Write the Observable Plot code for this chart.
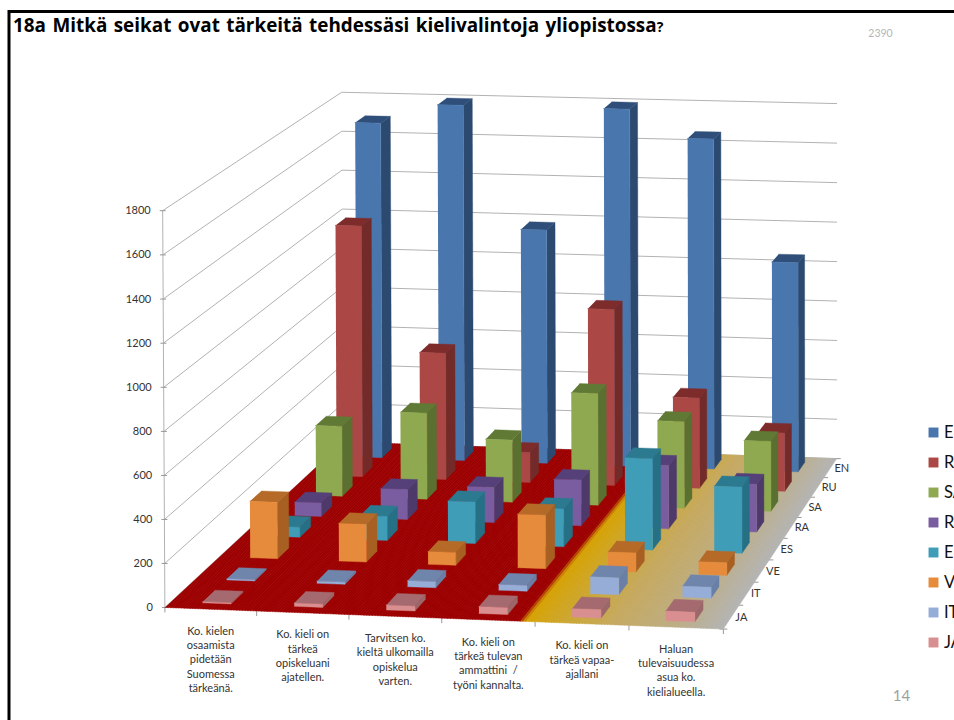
<!DOCTYPE html>
<html><head><meta charset="utf-8">
<script src="https://cdn.jsdelivr.net/npm/d3@7"></script>
<script src="https://cdn.jsdelivr.net/npm/@observablehq/plot@0.6"></script>
<style>
html,body{margin:0;padding:0;background:#fff;overflow:hidden}
#wrap{position:relative;width:954px;height:720px;overflow:hidden}
#wrap svg{position:absolute;left:0;top:0}
#title{position:absolute;left:13px;top:13px;font:700 18.9px "Open Sans",sans-serif;color:#000;white-space:nowrap;word-spacing:1.5px;line-height:24px}
#title small{font-size:14px}
</style></head><body>
<div id="wrap"><div id="title">18a Mitkä seikat ovat tärkeitä tehdessäsi kielivalintoja yliopistossa<small>?</small></div></div>
<script>
const categories = [
  "Ko. kielen\nosaamista\npidetään\nSuomessa\ntärkeänä.",
  "Ko. kieli on\ntärkeä\nopiskeluani\najatellen.",
  "Tarvitsen ko.\nkieltä ulkomailla\nopiskelua\nvarten.",
  "Ko. kieli on\ntärkeä tulevan\nammattini  /\ntyöni kannalta.",
  "Ko. kieli on\ntärkeä vapaa-\najallani",
  "Haluan\ntulevaisuudessa\nasua ko.\nkielialueella."
];
const seriesNames = ["EN","RU","SA","RA","ES","VE","IT","JA"];
const EN = [1700,1800,1180,1800,1660,1050];
const RU = [1255,632,150,875,448,288];
const SA = [345,424,305,547,423,341];
const RA = [65,145,170,220,305,229];
const ES = [48,114,198,180,433,313];
const VE = [266,177,60,250,89,59];
const IT = [5,10,28,26,77,50];
const JA = [5,15,22,31,38,43];
const seriesValues = [EN,RU,SA,RA,ES,VE,IT,JA];
const yTicks = [0,200,400,600,800,1000,1200,1400,1600,1800];
const yMax = 1800;
const frontColors = ["#4a76ae","#ab4744","#8fa950","#7a5da0","#3f9db8","#e68a3c","#96add8","#d98f90"];
const sideColors  = ["#2c4a70","#722b29","#5a7030","#4e3a6a","#267085","#a85f22","#6a7fa5","#9b6768"];
const topColors   = ["#2f4f7a","#7d2c2b","#607a35","#55407a","#2b7a8f","#b56a28","#6f85ab","#a56a70"];

// perspective camera fitted to the chart box corners: [u,v,w] -> [px,py]
const fit = [
  [0,0,0,165,606.7],[1,0,0,722.7,629],[1,1,0,836.5,457.5],[0,1,0,342,442],
  [0,0,1,161.7,210],[0,1,1,341.7,91.7],[1,1,1,836,103.3]
];
function solve(A,b){
  const n=b.length,M=A.map((r,i)=>[...r,b[i]]);
  for(let i=0;i<n;i++){
    let p=i;for(let k=i+1;k<n;k++)if(Math.abs(M[k][i])>Math.abs(M[p][i]))p=k;
    [M[i],M[p]]=[M[p],M[i]];
    for(let k=0;k<n;k++){if(k===i)continue;const f=M[k][i]/M[i][i];for(let j=i;j<=n;j++)M[k][j]-=f*M[i][j];}
  }
  return M.map((r,i)=>r[n]/r[i]);
}
const rows=[],rhs=[];
for(const [u,v,w,px,py] of fit){
  const x=px/1000,y=py/1000;
  rows.push([u,v,w,1,0,0,0,0,-x*u,-x*v,-x*w]);rhs.push(x);
  rows.push([0,0,0,0,u,v,w,1,-y*u,-y*v,-y*w]);rhs.push(y);
}
const AtA=d3.range(11).map(i=>d3.range(11).map(j=>d3.sum(rows,r=>r[i]*r[j])));
const Atb=d3.range(11).map(i=>d3.sum(rows,(r,k)=>r[i]*rhs[k]));
const P=solve(AtA,Atb);
function project(u,v,w){
  const d=P[8]*u+P[9]*v+P[10]*w+1;
  return [1000*(P[0]*u+P[1]*v+P[2]*w+P[3])/d,1000*(P[4]*u+P[5]*v+P[6]*w+P[7])/d];
}
const nC=categories.length,nS=seriesNames.length;
const barW=0.31,barD=0.5;

const faces=[];let fid=0;
function face(corners,color){
  const id=fid++;
  for(const c of corners){const [x,y]=project(...c);faces.push({id,x,y,color});}
}
const floorColor=d3.scaleLinear()
  .domain([0,0.637,0.65,0.72,0.8,0.92,1])
  .range(["#9c0000","#9c0000","#d6a204","#cca733","#c6a95f","#bcae88","#b4b4b4"])
  .interpolate(d3.interpolateRgb);
for(let k=0;k<200;k++){
  const u0=k/200,u1=(k+1)/200;
  face([[u0,0,0],[Math.min(1,u1+0.001),0,0],[Math.min(1,u1+0.001),1,0],[u0,1,0]],floorColor((u0+u1)/2));
}
seriesValues.forEach((vals,s)=>{
  const r=nS-1-s;
  const v0=(r+0.5-barD/2)/nS,v1=(r+0.5+barD/2)/nS;
  vals.forEach((val,c)=>{
    const u0=(c+0.5-barW/2)/nC,u1=(c+0.5+barW/2)/nC,w=val/yMax;
    face([[u1,v0,0],[u1,v1,0],[u1,v1,w],[u1,v0,w]],sideColors[s]);
    face([[u0,v0,w],[u1,v0,w],[u1,v1,w],[u0,v1,w]],topColors[s]);
    face([[u0,v0,0],[u1,v0,0],[u1,v0,w],[u0,v0,w]],frontColors[s]);
  });
});

const grid=[];
yTicks.forEach(t=>{
  const w=t/yMax;
  for(const c of [[0,0,w],[0,1,w],[1,1,w]]){const [x,y]=project(...c);grid.push({t,x,y});}
});
const axisLine=[[0,0,0],[0,0,1]].map(c=>{const [x,y]=project(...c);return{x,y};});
const yLabels=yTicks.map(t=>{const [x,y]=project(0,0,t/yMax);return{t,x,y};});
const xTicks=d3.range(nC+1).map(i=>{const [x,y]=project(i/nC,0,0);return{x,y};});
const xLabels=categories.map((text,i)=>{const [x,y]=project((i+0.5)/nC,0,0);return{text,x,y};});
const sTicks=d3.range(nS+1).map(i=>{const [x,y]=project(1,i/nS,0);return{x,y};});
const sLabels=seriesNames.map((name,s)=>{const [x,y]=project(1,(nS-1-s+0.5)/nS,0);return{name,x,y};});
const legend=seriesNames.map((name,s)=>({name,color:frontColors[s],i:s}));
const legendY=d3.scaleLinear().domain([0,7]).range([432,642]);

const chart=Plot.plot({
  width:954,height:720,margin:0,
  x:{domain:[0,954],range:[0,954],axis:null},
  y:{domain:[0,720],range:[0,720],axis:null},
  color:{type:"identity"},
  style:{background:"transparent",fontFamily:"Lato,sans-serif"},
  marks:[
    Plot.ruleY([11],{x1:8,x2:954,stroke:"#000",strokeWidth:3}),
    Plot.ruleX([8.5],{y1:10,y2:720,stroke:"#000",strokeWidth:3}),
    Plot.line(grid,{x:"x",y:"y",z:"t",stroke:"#b2b2b2",strokeWidth:1,curve:"linear"}),
    Plot.line(axisLine,{x:"x",y:"y",stroke:"#b2b2b2",strokeWidth:1}),
    Plot.link(xTicks,{x1:"x",y1:"y",x2:"x",y2:d=>d.y+5,stroke:"#999",strokeWidth:1}),
    Plot.link(yLabels,{x1:d=>d.x-3,y1:"y",x2:d=>d.x+3,y2:"y",stroke:"#999",strokeWidth:1}),
    Plot.link(sTicks,{x1:d=>d.x-4,y1:"y",x2:d=>d.x+4,y2:"y",stroke:"#999",strokeWidth:1}),
    Plot.line(faces,{x:"x",y:"y",z:"id",fill:"color",stroke:"color",strokeWidth:0.4,curve:"linear"}),
    Plot.text(yLabels,{x:"x",y:"y",text:d=>String(d.t),textAnchor:"end",dx:-12,fontSize:11,fill:"#333"}),
    Plot.text(xLabels,{x:"x",y:"y",text:"text",lineAnchor:"top",dy:15.5,fontSize:11,lineHeight:1.3,fill:"#333"}),
    Plot.text(sLabels,{x:"x",y:"y",text:"name",textAnchor:"start",dx:4,fontSize:11,fill:"#333"}),
    Plot.dot(legend,{x:()=>933,y:d=>legendY(d.i),symbol:"square",r:5.6,fill:"color",stroke:null}),
    Plot.text(legend,{x:()=>943.5,y:d=>legendY(d.i),text:"name",textAnchor:"start",fontSize:16.5,fill:"#111"}),
    Plot.text(["2390"],{x:()=>880,y:()=>33,text:d=>d,fontSize:10.5,fill:"#b5b5b5"}),
    Plot.text(["14"],{x:()=>901,y:()=>696,text:d=>d,fontSize:15,fill:"#a0a0a0"})
  ]
});
document.getElementById("wrap").prepend(chart);
</script>
</body></html>
